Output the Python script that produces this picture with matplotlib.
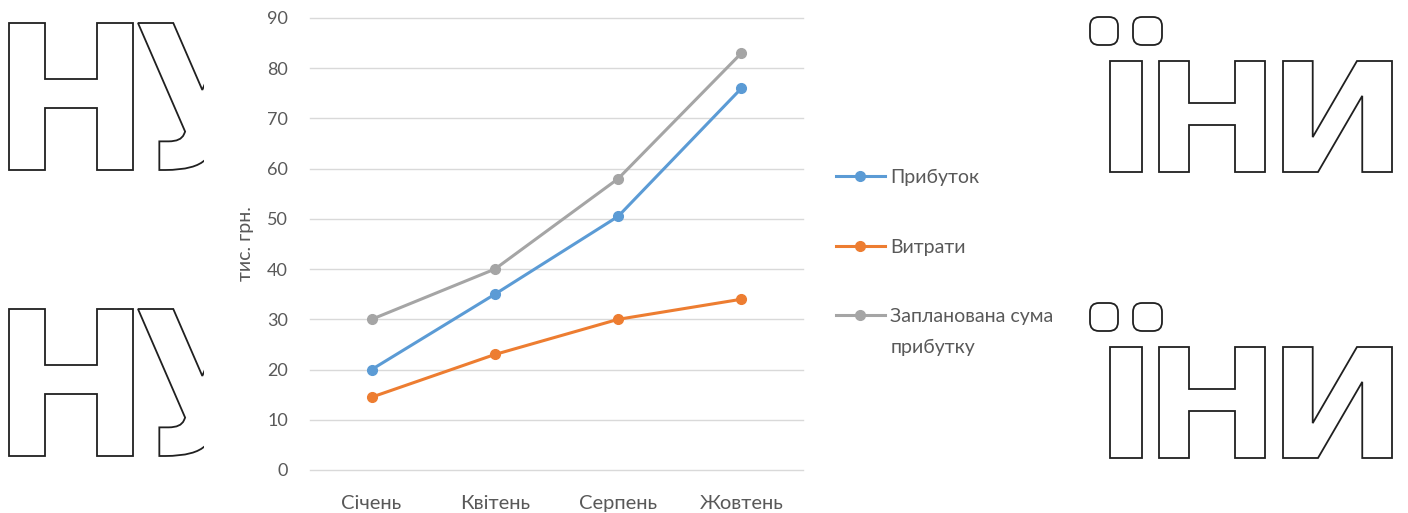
import matplotlib
matplotlib.use("Agg")
import matplotlib.pyplot as plt
from matplotlib.path import Path
from matplotlib.textpath import TextPath
from matplotlib.patches import PathPatch, Rectangle, FancyBboxPatch
from matplotlib.font_manager import FontProperties
from matplotlib.transforms import Affine2D

W, H = 1408, 513

months = ["Січень", "Квітень", "Серпень", "Жовтень"]
profit = [20, 35, 50.5, 76]
costs = [14.5, 23, 30, 34]
planned = [30, 40, 58, 83]
series_names = ["Прибуток", "Витрати", "Запланована сума\nприбутку"]

C_BLUE = "#5B9BD5"
C_ORANGE = "#ED7D31"
C_GRAY = "#A5A5A5"
C_TEXT = "#595959"
C_INK = "#202020"

plt.rcParams["font.family"] = ["Lato", "DejaVu Sans"]

fig = plt.figure(figsize=(W / 100, H / 100), dpi=100, facecolor="white")
to_fig = Affine2D().scale(1 / W, 1 / H) + fig.transFigure

# outline watermark letters behind the chart (pixel boxes)
wm_font = FontProperties(family="DejaVu Sans", weight="bold")
cap = TextPath((0, 0), "Н", prop=wm_font, size=100).get_extents().y1


def letter(ch, x_left, x_right, y_top, y_bot):
    path = TextPath((0, 0), ch, prop=wm_font, size=100)
    xs = [v[0] for v, c in zip(path.vertices, path.codes)
          if c != Path.CLOSEPOLY and v[1] <= cap + 0.5]
    bx0, bx1 = min(xs), max(xs)
    sx = (x_right - x_left) / (bx1 - bx0)
    sy = (y_bot - y_top) / cap
    tr = (Affine2D().translate(-bx0, 0).scale(sx, sy)
          .translate(x_left, H - y_bot) + to_fig)
    fig.add_artist(PathPatch(path, transform=tr, facecolor="white",
                             edgecolor=C_INK, lw=1.3, zorder=-3))


def dot(x0, x1, y0, y1):
    fig.add_artist(FancyBboxPatch((x0, H - y1), x1 - x0, y1 - y0,
                                  boxstyle="round,pad=0,rounding_size=9",
                                  transform=to_fig, facecolor="white",
                                  edgecolor=C_INK, lw=1.3, zorder=-3))


for dy in (0, 286):
    letter("Н", 9, 133, 23 + dy, 170 + dy)
    letter("У", 138, 266, 23 + dy, 170 + dy)
    letter("І", 1110, 1142, 61 + dy, 172 + dy)
    letter("Н", 1159, 1265, 61 + dy, 172 + dy)
    letter("И", 1283, 1392, 61 + dy, 172 + dy)
    dot(1090, 1118, 17 + dy, 45 + dy)
    dot(1133, 1162, 17 + dy, 45 + dy)

fig.add_artist(Rectangle((204 / W, 0), (1086 - 204) / W, 1,
                         transform=fig.transFigure, facecolor="white",
                         edgecolor="none", zorder=-1))

ax = fig.add_axes([310 / W, 1 - 470 / H, (803 - 310) / W, (470 - 18) / H])
ax.set_facecolor("white")
x = range(len(months))
lines = []
for vals, col, name in zip([profit, costs, planned],
                           [C_BLUE, C_ORANGE, C_GRAY], series_names):
    ln, = ax.plot(x, vals, color=col, lw=2.2, marker="o", markersize=7,
                  label=name)
    lines.append(ln)

ax.set_xlim(-0.5, 3.5)
ax.set_ylim(0, 90)
ax.set_yticks(range(0, 91, 10))
ax.set_xticks(list(x))
ax.set_xticklabels(months)
ax.grid(axis="y", color="#D9D9D9", lw=1)
for gl in ax.get_ygridlines():
    gl.set_clip_on(False)
ax.set_axisbelow(True)
for s in ax.spines.values():
    s.set_visible(False)
ax.tick_params(axis="y", length=0, pad=16, labelsize=13, labelcolor=C_TEXT)
ax.tick_params(axis="x", length=0, pad=18, labelsize=14.5, labelcolor=C_TEXT)
ax.set_ylabel("тис. грн.", fontsize=14, color=C_TEXT, labelpad=9)

leg = fig.legend(lines, series_names, loc="upper left",
                 bbox_to_anchor=(836 / W, 1 - 169 / H), frameon=False,
                 fontsize=14, handlelength=2.5, handletextpad=0.3,
                 labelspacing=2.7, borderpad=0, borderaxespad=0)
for t in leg.get_texts():
    t.set_color(C_TEXT)
leg.get_texts()[2].set_linespacing(2.0)
leg._legend_handle_box.get_children()[0].get_children()[2].align = "top"

fig.savefig("out.png", dpi=100, facecolor="white")
